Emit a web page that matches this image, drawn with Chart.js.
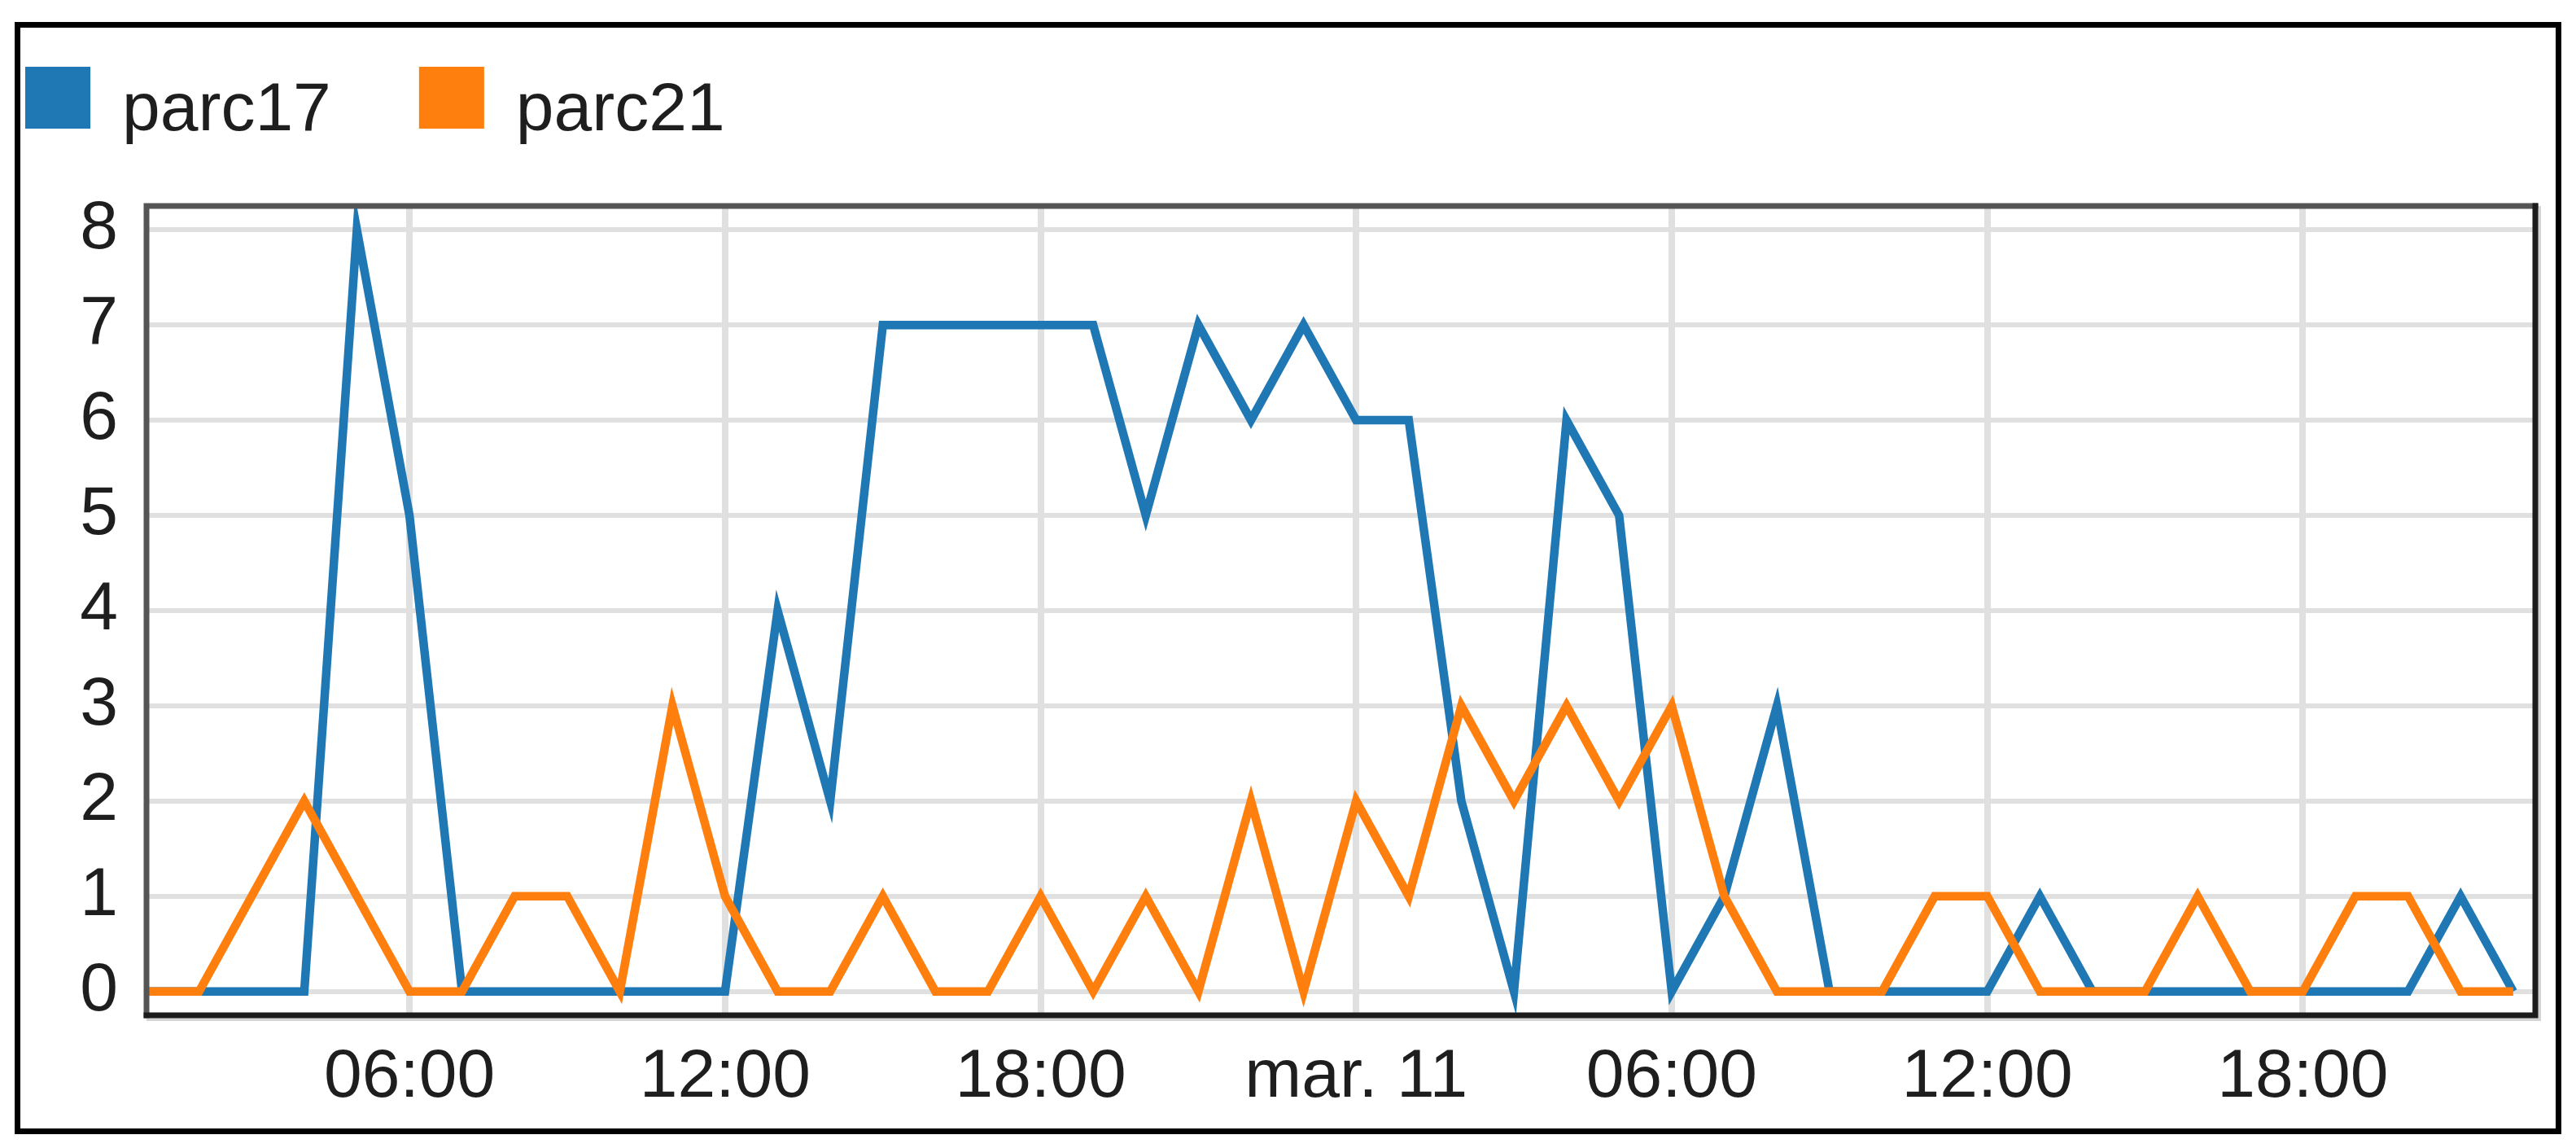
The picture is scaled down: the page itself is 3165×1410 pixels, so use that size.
<!DOCTYPE html>
<html>
<head>
<meta charset="utf-8">
<script src="https://cdn.jsdelivr.net/npm/chart.js@4.4.1/dist/chart.umd.min.js"></script>
<style>
  html, body { margin: 0; padding: 0; background: #fff; }
  #wrap { position: relative; width: 3165px; height: 1410px; }
  #marco { position: absolute; left: 18px; top: 27px; width: 3129px; height: 1366px; border: 7px solid #000; box-sizing: border-box; }
  canvas { position: absolute; left: 0; top: 0; }
</style>
</head>
<body>
<div id="wrap">
  <div id="marco"></div>
  <canvas id="grafico" width="3165" height="1410"></canvas>
</div>
<script>
// horas desde el 10 de marzo 00:00
var horas = [1, 2, 3, 4, 5, 6, 7, 8, 9, 10, 11, 12, 13, 14, 15, 16, 17, 18, 19, 20, 21, 22, 23,
             24, 25, 26, 27, 28, 29, 30, 31, 32, 33, 34, 35, 36, 37, 38, 39, 40, 41, 42, 43, 44, 45, 46];
var parc17 = [0, 0, 0, 0, 8, 5, 0, 0, 0, 0, 0, 0, 4, 2, 7, 7, 7, 7, 7, 5, 7, 6, 7,
              6, 6, 2, 0, 6, 5, 0, 1, 3, 0, 0, 0, 0, 1, 0, 0, 0, 0, 0, 0, 0, 1, 0];
var parc21 = [0, 0, 1, 2, 1, 0, 0, 1, 1, 0, 3, 1, 0, 0, 1, 0, 0, 1, 0, 1, 0, 2, 0,
              2, 1, 3, 2, 3, 2, 3, 1, 0, 0, 0, 1, 1, 0, 0, 0, 1, 0, 0, 1, 1, 0, 0];
var seriesNames = ['parc17', 'parc21'];
var seriesColors = ['#1f77b4', '#ff7f0e'];
var xTickHoras = [6, 12, 18, 24, 30, 36, 42];
var xTickLabels = ['06:00', '12:00', '18:00', 'mar. 11', '06:00', '12:00', '18:00'];
var yTicks = [0, 1, 2, 3, 4, 5, 6, 7, 8];

Chart.defaults.font.family = '"Liberation Sans", Arial, sans-serif';

function puntos(valores) {
    return horas.map(function (h, i) { return {x: h, y: valores[i]}; });
}

// marco del area de trazado
var marcoPlot = {
    id: 'marcoPlot',
    afterDatasetsDraw: function (chart) {
        var a = chart.chartArea, ctx = chart.ctx;
        ctx.save();
        ctx.strokeStyle = '#d4d4d4';
        ctx.lineWidth = 4;
        ctx.beginPath();
        ctx.moveTo(a.right + 5, a.top);
        ctx.lineTo(a.right + 5, a.bottom + 5);
        ctx.lineTo(a.left, a.bottom + 5);
        ctx.stroke();
        ctx.lineCap = 'square';
        ctx.lineWidth = 7;
        ctx.strokeStyle = '#555';
        ctx.beginPath();
        ctx.moveTo(a.left, a.bottom);
        ctx.lineTo(a.left, a.top);
        ctx.lineTo(a.right, a.top);
        ctx.stroke();
        ctx.strokeStyle = '#1c1c1c';
        ctx.beginPath();
        ctx.moveTo(a.right, a.top);
        ctx.lineTo(a.right, a.bottom);
        ctx.lineTo(a.left, a.bottom);
        ctx.stroke();
        ctx.restore();
    }
};

// leyenda arriba a la izquierda
var leyenda = {
    id: 'leyenda',
    afterDraw: function (chart) {
        var ctx = chart.ctx;
        var x = 31;
        ctx.save();
        ctx.font = '84px "Liberation Sans", Arial, sans-serif';
        ctx.textBaseline = 'alphabetic';
        seriesNames.forEach(function (nombre, i) {
            ctx.fillStyle = seriesColors[i];
            ctx.fillRect(x, 82, 80, 76);
            ctx.fillStyle = '#1e1e1e';
            ctx.fillText(nombre, x + 119, 160);
            x += 119 + ctx.measureText(nombre).width + 108;
        });
        ctx.restore();
    }
};

var ctx = document.getElementById('grafico').getContext('2d');
var grafico = new Chart(ctx, {
    type: 'line',
    data: {
        datasets: [{
            label: seriesNames[0],
            data: puntos(parc17),
            borderColor: seriesColors[0],
            backgroundColor: seriesColors[0],
            borderWidth: 10.5,
            pointRadius: 0,
            tension: 0,
            order: 1
        }, {
            label: seriesNames[1],
            data: puntos(parc21),
            borderColor: seriesColors[1],
            backgroundColor: seriesColors[1],
            borderWidth: 10.5,
            pointRadius: 0,
            tension: 0,
            order: 0
        }]
    },
    options: {
        responsive: false,
        animation: false,
        layout: {
            padding: {left: 0, right: 50, top: 253, bottom: 0}
        },
        plugins: {
            legend: {display: false},
            tooltip: {enabled: false}
        },
        scales: {
            x: {
                type: 'linear',
                min: 1,
                max: 46.42,
                afterBuildTicks: function (axis) {
                    axis.ticks = xTickHoras.map(function (v) { return {value: v}; });
                },
                afterFit: function (axis) { axis.height = 163; },
                ticks: {
                    padding: 26,
                    color: '#1e1e1e',
                    font: {size: 84},
                    maxRotation: 0,
                    autoSkip: false,
                    callback: function (value, index) { return xTickLabels[index]; }
                },
                grid: {color: '#e0e0e0', lineWidth: 8, drawTicks: false},
                border: {display: false}
            },
            y: {
                min: -0.25,
                max: 8.25,
                afterBuildTicks: function (axis) {
                    axis.ticks = yTicks.map(function (v) { return {value: v}; });
                },
                afterFit: function (axis) { axis.width = 180; },
                ticks: {
                    padding: 35,
                    color: '#1e1e1e',
                    font: {size: 84}
                },
                grid: {color: '#e0e0e0', lineWidth: 6, drawTicks: false},
                border: {display: false}
            }
        }
    },
    plugins: [marcoPlot, leyenda]
});
</script>
</body>
</html>
